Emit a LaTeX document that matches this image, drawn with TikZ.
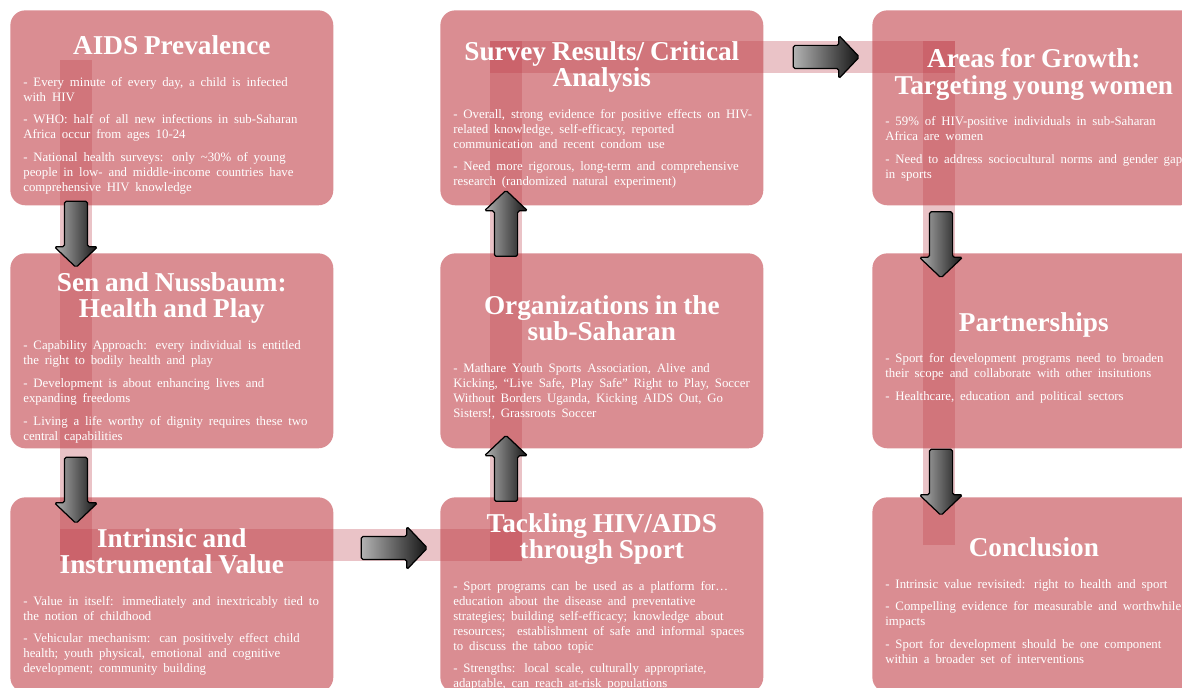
\documentclass[tikz,border=0pt]{standalone}
\usepackage{fontspec}
\setmainfont[WordSpace=0.8]{Liberation Serif}
\usetikzlibrary{shapes.arrows,calc}
\definecolor{BoxFill}{RGB}{193,65,73}
\definecolor{BandCol}{RGB}{177,33,48}
\pgfdeclarelayer{bandlayer}
\pgfsetlayers{bandlayer,main}
\tikzset{
  nd_box/.style={rectangle,rounded corners=0.3cm,fill=BoxFill,fill opacity=0.6,text opacity=1,anchor=north west,minimum width=6.46cm,minimum height=3.9cm,text width=5.94cm,inner sep=0pt,align=left,text=white},
  band/.style={line width=0.64cm,draw=BandCol,draw opacity=0.27,line cap=rect},
  blk/.style={single arrow,draw=black,line width=0.7pt,rounded corners=1pt,left color=black!30,right color=black!92,minimum height=1.32cm,minimum width=0.84cm,inner xsep=0pt,inner ysep=0.22cm,single arrow head extend=0.2cm,single arrow tip angle=93,sloped,allow upside down},
}
\newcommand{\hd}[1]{{\centering\fontsize{15.5}{15}\selectfont\bfseries #1\par}}
\newcommand{\bd}[1]{{\fontsize{7.3}{8.5}\selectfont\begin{tabular}[t]{@{}l@{}}#1\end{tabular}\baselineskip=18.1pt\par}\kern-9pt}
\newcommand{\itm}{\\[4.5pt]}

\begin{document}
\begin{tikzpicture}[x=0.02cm,y=-0.02cm]
\useasboundingbox (0,0) rectangle (1182,688);
\clip (0,0) rectangle (1182,688);
\def\cA{10}\def\cB{440}\def\cC{872}
\def\rA{10}\def\rB{253}\def\rC{497}
% Col A
\node[nd_box] at (\cA,\rA)(A1){\hd{AIDS Prevalence}\bd{- Every minute of every day, a child is infected\\with HIV\itm - WHO: half of all new infections in sub-Saharan\\Africa occur from ages 10-24\itm - National health surveys: only \textasciitilde30\% of young\\people in low- and middle-income countries have\\comprehensive HIV knowledge}};
\node[nd_box] at (\cA,\rB)(A2){\hd{Sen and Nussbaum:\\Health and Play}\bd{- Capability Approach: every individual is entitled\\the right to bodily health and play\itm - Development is about enhancing lives and\\expanding freedoms\itm - Living a life worthy of dignity requires these two\\central capabilities}};
\node[nd_box] at (\cA,\rC)(A3){\hd{Intrinsic and\\Instrumental Value}\bd{- Value in itself: immediately and inextricably tied to\\the notion of childhood\itm - Vehicular mechanism: can positively effect child\\health; youth physical, emotional and cognitive\\development; community building}};
% Col B
\node[nd_box] at (\cB,\rA)(B1){\hd{Survey Results/ Critical\\Analysis}\bd{- Overall, strong evidence for positive effects on HIV-\\related knowledge, self-efficacy, reported\\communication and recent condom use\itm - Need more rigorous, long-term and comprehensive\\research (randomized natural experiment)}};
\node[nd_box] at (\cB,\rB)(B2){\hd{Organizations in the\\sub-Saharan}\bd{- Mathare Youth Sports Association, Alive and\\Kicking, “Live Safe, Play Safe” Right to Play, Soccer\\Without Borders Uganda, Kicking AIDS Out, Go\\Sisters!, Grassroots Soccer}};
\node[nd_box] at (\cB,\rC)(B3){\hd{Tackling HIV/AIDS\\through Sport}\bd{- Sport programs can be used as a platform for…\\education about the disease and preventative\\strategies; building self-efficacy; knowledge about\\resources;\ \ establishment of safe and informal spaces\\to discuss the taboo topic\itm - Strengths: local scale, culturally appropriate,\\adaptable, can reach at-risk populations}};
% Col C
\node[nd_box] at (\cC,\rA)(C1){\hd{Areas for Growth:\\Targeting young women}\bd{- 59\% of HIV-positive individuals in sub-Saharan\\Africa are women\itm - Need to address sociocultural norms and gender gap\\in sports}};
\node[nd_box] at (\cC,\rB)(C2){\hd{Partnerships}\bd{- Sport for development programs need to broaden\\their scope and collaborate with other insitutions\itm - Healthcare, education and political sectors}};
\node[nd_box] at (\cC,\rC)(C3){\hd{Conclusion}\bd{- Intrinsic value revisited: right to health and sport\itm - Compelling evidence for measurable and worthwhile\\impacts\itm - Sport for development should be one component\\within a broader set of interventions}};
% band
\coordinate (bS) at ($(A1.north west)+(66,66)$);
\coordinate (b1) at ($(A3.north west)+(66,48)$);
\coordinate (b2) at ($(B3.north west)+(66,48)$);
\coordinate (b3) at ($(B1.north west)+(66,47)$);
\coordinate (b4) at ($(C1.north west)+(67,47)$);
\coordinate (bE) at ($(C3.north west)+(67,32)$);
\begin{pgfonlayer}{bandlayer}
\foreach \p/\q in {bS/b1,b1/b2,b2/b3,b3/b4,b4/bE}{\draw[band](\p)--(\q);}
\end{pgfonlayer}
% arrows
\path ($(A1.south west)+(66,-10)$) -- node[blk]{} ($(A2.north west)+(66,9)$);
\path ($(A2.south west)+(66,4)$) -- node[blk]{} ($(A3.north west)+(66,20)$);
\path ($(A3.north east)+(22,51)$) -- node[blk]{} ($(B3.north west)+(-18,51)$);
\path ($(B3.north west)+(66,8)$) -- node[blk]{} ($(B2.south west)+(66,-6)$);
\path ($(B2.north west)+(66,9)$) -- node[blk]{} ($(B1.south west)+(66,-10)$);
\path ($(B1.north east)+(21,47)$) -- node[blk]{} ($(C1.north west)+(-15,47)$);
\path ($(C1.south west)+(69,0)$) -- node[blk]{} ($(C2.north west)+(69,20)$);
\path ($(C2.south west)+(69,-5)$) -- node[blk]{} ($(C3.north west)+(69,13)$);
\end{tikzpicture}
\end{document}
